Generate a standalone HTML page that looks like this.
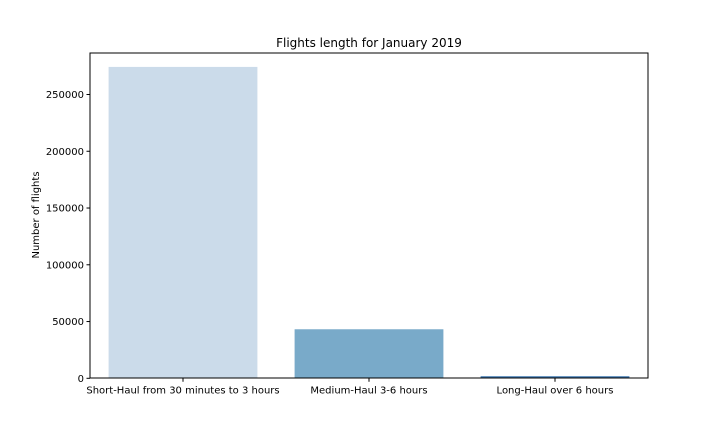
<!DOCTYPE html>
<html><head><meta charset="utf-8"><style>
body{margin:0;background:#fff;}
svg text{font-family:"DejaVu Sans","Liberation Sans",sans-serif;fill:#000;}
</style></head><body>
<svg id="chart" width="720" height="432">
<text x="369" y="47" font-size="12" text-anchor="middle">Flights length for January 2019</text>
<text transform="translate(39,215) rotate(-90)" font-size="10" text-anchor="middle">Number of flights</text>
<g id="bars"></g><g id="yticks"></g><g id="xticks"></g>
<rect x="90" y="53" width="558" height="325" fill="none" stroke="#000" stroke-width="1"/>
</svg>
<script>
const categories=["Short-Haul from 30 minutes to 3 hours","Medium-Haul 3-6 hours","Long-Haul over 6 hours"];
const values=[274300,43200,1800];
const colors=["#cbdbea","#79aac9","#3a75ae"];
const yTicks=[0,50000,100000,150000,200000,250000];
const x0=90,x1=648,yBase=378.3,pxPer=283.8/250000;
const y=v=>yBase-v*pxPer;
const band=(x1-x0)/categories.length;
const ns="http://www.w3.org/2000/svg";
const bars=document.getElementById('bars'),yt=document.getElementById('yticks'),xt=document.getElementById('xticks');
categories.forEach((c,i)=>{
  const cx=x0+band*(i+0.5),w=band*0.8;
  const r=document.createElementNS(ns,'rect');
  r.setAttribute('x',cx-w/2);r.setAttribute('width',w);
  r.setAttribute('y',y(values[i]));r.setAttribute('height',yBase-y(values[i]));
  r.setAttribute('fill',colors[i]);
  
  
  bars.appendChild(r);
  const l=document.createElementNS(ns,'line');
  l.setAttribute('x1',cx);l.setAttribute('x2',cx);l.setAttribute('y1',yBase);l.setAttribute('y2',yBase+3.5);l.setAttribute('stroke','#000');
  xt.appendChild(l);
  const t=document.createElementNS(ns,'text');
  t.setAttribute('x',cx);t.setAttribute('y',yBase+15);t.setAttribute('font-size','10');t.setAttribute('text-anchor','middle');
  t.textContent=c;
  
  
  xt.appendChild(t);
});
yTicks.forEach(v=>{
  const yy=y(v);
  const l=document.createElementNS(ns,'line');
  l.setAttribute('x1',x0-3.5);l.setAttribute('x2',x0);l.setAttribute('y1',yy);l.setAttribute('y2',yy);l.setAttribute('stroke','#000');
  yt.appendChild(l);
  const t=document.createElementNS(ns,'text');
  t.setAttribute('x',x0-6);t.setAttribute('y',yy+3.5);t.setAttribute('font-size','10');t.setAttribute('text-anchor','end');
  t.textContent=v;
  
  
  yt.appendChild(t);
});
</script>
</body></html>
